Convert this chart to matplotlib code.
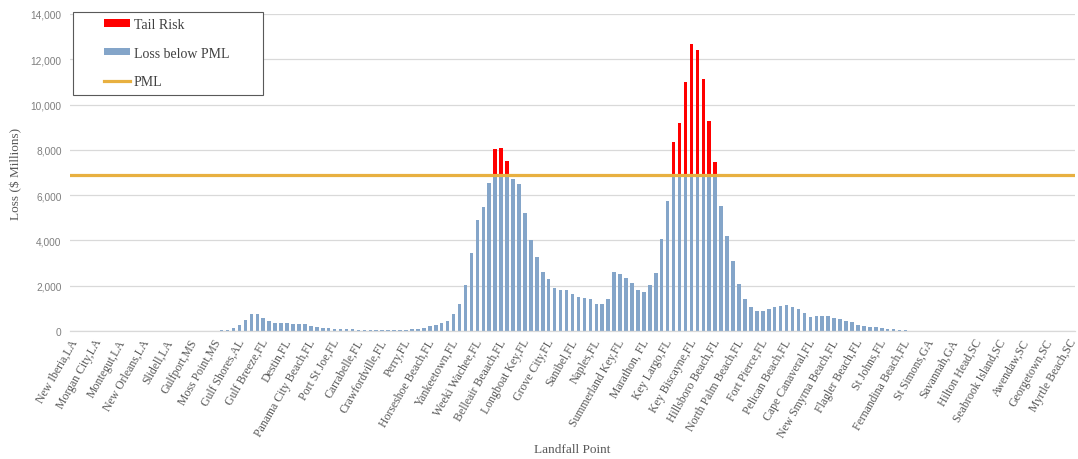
import matplotlib
matplotlib.use("Agg")
import matplotlib.pyplot as plt
import matplotlib.transforms as mtransforms
import numpy as np
from matplotlib.patches import Patch, Rectangle
from matplotlib.lines import Line2D
from matplotlib.ticker import FuncFormatter

# ---- data ----
tick_labels = [
    "New Iberia,LA", "Morgan City,LA", "Montegut,LA", "New Orleans,LA", "Slidell,LA",
    "Gulfport,MS", "Moss Point,MS", "Gulf Shores,AL", "Gulf Breeze,FL", "Destin,FL",
    "Panama City Beach,FL", "Port St Joe,FL", "Carrabelle,FL", "Crawfordville,FL", "Perry,FL",
    "Horseshoe Beach,FL", "Yankeetown,FL", "Weeki Wachee,FL", "Belleair Beaach,FL", "Longboat Key,FL",
    "Grove City,FL", "Sanibel,FL", "Naples,FL", "Summerland Key,FL", "Marathon, FL",
    "Key Largo,FL", "Key Biscayne,FL", "Hillsboro Beach,FL", "North Palm Beach,FL", "Fort Pierce,FL",
    "Pelican Beach,FL", "Cape Canaveral,FL", "New Smyrna Beach,FL", "Flagler Beach,FL", "St Johns,FL",
    "Fernandina Beach,FL", "St Simons,GA", "Savannah,GA", "Hilton Head,SC", "Seabrook Island,SC",
    "Awendaw,SC", "Georgetown,SC", "Myrtle Beach,SC",
]
label_step = 4

total_loss = [
    0, 0, 0, 0, 0, 0, 0, 0, 0, 0,
    0, 0, 0, 0, 0, 0, 0, 0, 0, 0,
    0, 0, 0, 0, 0, 45, 60, 120, 265, 470,
    750, 730, 590, 455, 370, 340, 340, 310, 310, 310,
    235, 175, 147, 118, 100, 88, 88, 75, 60, 60,
    60, 45, 45, 45, 45, 45, 60, 75, 90, 115,
    200, 260, 350, 440, 736, 1208, 2018, 3447, 4890, 5465,
    6555, 8028, 8087, 7527, 6732, 6496, 5214, 4036, 3290, 2615,
    2310, 1905, 1817, 1817, 1626, 1509, 1465, 1392, 1172, 1172,
    1392, 2608, 2520, 2359, 2124, 1825, 1740, 2010, 2570, 4050,
    5762, 8335, 9188, 10996, 12686, 12392, 11128, 9291, 7482, 5542,
    4190, 3100, 2073, 1431, 1080, 905, 905, 964, 1066, 1124,
    1153, 1066, 964, 803, 613, 642, 657, 657, 555, 526,
    438, 380, 263, 219, 161, 161, 146, 102, 88, 44,
    29, 15, 0, 0, 0, 0, 0, 0, 0, 0,
    0, 0, 0, 0, 0, 0, 0, 0, 0, 0,
    0, 0, 0, 0, 0, 0, 0, 0, 0,
]
pml = 6870

# ---- derived series ----
loss = np.array(total_loss, dtype=float)
below = np.minimum(loss, pml)
tail = np.clip(loss - pml, 0, None)
x = np.arange(len(loss))

plt.rcParams['font.family'] = ['Liberation Serif', 'DejaVu Serif']

W, H = 1078, 460
fig = plt.figure(figsize=(W / 100, H / 100), dpi=100)
ax = fig.add_axes([70 / W, 1 - 332 / H, 1005 / W, 317 / H])

blue = "#84a5c9"
red = "#ff0000"
gold = "#e8b040"

ax.bar(x, below, width=0.6, color=blue, zorder=2)
ax.bar(x, tail, width=0.6, bottom=below, color=red, zorder=2)
ax.axhline(pml, color=gold, lw=2.3, zorder=3)

ax.set_xlim(-0.5, len(loss) - 0.5)
ax.set_ylim(0, 14000)
ax.set_yticks(np.arange(0, 14001, 2000))
ax.yaxis.set_major_formatter(FuncFormatter(lambda v, p: f"{int(v):,}"))
ax.grid(axis='y', color="#d9d9d9", lw=0.9, zorder=0)
ax.set_axisbelow(True)

ticks = np.arange(0, len(loss), label_step)[:len(tick_labels)]
ax.set_xticks(ticks)
ax.set_xticklabels(tick_labels, rotation=60, ha='right', rotation_mode='anchor',
                   fontsize=8.5, color="#595959")
ax.tick_params(axis='x', length=0, pad=4)
ax.tick_params(axis='y', length=0, pad=6)
shift = mtransforms.ScaledTranslation(-3 / 100, 0, fig.dpi_scale_trans)
for lab in ax.get_xticklabels():
    lab.set_transform(lab.get_transform() + shift)
for lab in ax.get_yticklabels():
    lab.set_fontfamily('Liberation Sans')
    lab.set_fontsize(7.3)
    lab.set_color("#7f7f7f")

for s in ['top', 'right', 'left']:
    ax.spines[s].set_visible(False)
ax.spines['bottom'].set_color("#d9d9d9")
ax.spines['bottom'].set_linewidth(0.9)

ax.set_ylabel("Loss ($ Millions)", fontsize=9.5, color="#595959")
ax.yaxis.set_label_coords(-48 / 1005, 0.5)
ax.set_xlabel("Landfall Point", fontsize=9.5, color="#595959")
ax.xaxis.set_label_coords(0.5, -0.352)

handles = [
    Patch(facecolor=red, edgecolor='none'),
    Patch(facecolor=blue, edgecolor='none'),
    Line2D([0], [0], color=gold, lw=2.3),
]
leg = fig.legend(handles, ["Tail Risk", "Loss below PML", "PML"],
                 loc='upper left', bbox_to_anchor=(104 / W, 1 - 19 / H),
                 bbox_transform=fig.transFigure, fontsize=10,
                 frameon=False, borderpad=0.0, labelspacing=1.13,
                 handlelength=1.85, handleheight=0.45, handletextpad=0.3,
                 borderaxespad=0.0)
for t in leg.get_texts():
    t.set_color("#404040")
fig.add_artist(Rectangle((73 / W, 1 - 96 / H), 190 / W, 83 / H,
                         transform=fig.transFigure, facecolor='white',
                         edgecolor="#595959", lw=0.8, zorder=1))
leg.set_zorder(5)

fig.savefig("out.png", dpi=100)
